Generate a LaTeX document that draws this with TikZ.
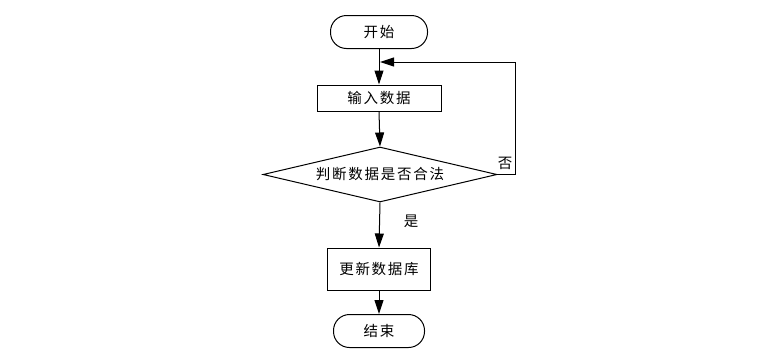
\documentclass[tikz,border=0pt]{standalone}
\usepackage{fontspec}
\setmainfont{Noto Sans CJK SC}[LetterSpace=12]
\usetikzlibrary{arrows.meta,shapes.geometric}
\begin{document}
\begin{tikzpicture}[x=1pt,y=-1pt,
  every node/.style={font=\fontsize{14.5}{16}\selectfont, inner sep=0pt},
  term/.style={draw, line width=1pt, rounded corners=16pt, minimum width=97pt, minimum height=33pt},
  proc/.style={draw, line width=1pt, minimum width=124pt, minimum height=26pt},
  dec/.style={draw, line width=1pt, diamond, aspect=4.25, minimum width=234pt, minimum height=55pt},
  conn/.style={draw, line width=1pt, -{Triangle[length=14pt,width=9pt]}},
  lbl/.style={font=\fontsize{14.5}{16}\selectfont}]
\useasboundingbox (0,0) rectangle (759,354);
\node[term] (start) at (379,32) {开始};
\node[proc] (input) at (379,98) {输入数据};
\node[dec] (judge) at (380,174.5) {判断数据是否合法};
\node[proc, minimum width=103pt, minimum height=42pt] (update) at (379,269) {更新数据库};
\node[term, minimum width=91pt] (end) at (379,331) {结束};
\coordinate (fbA) at (515,174.5);
\coordinate (fbB) at (515,62);
\coordinate (fbC) at (380,62);
\draw[conn] (start.south) -- (input.north);
\draw[conn] (input.south) -- (judge.north);
\draw[conn] (judge.south) -- (update.north);
\draw[conn] (update.south) -- (end.north);
\draw[conn] (judge.east) -- (fbA) -- (fbB) -- (fbC);
\node[lbl] (no) at (505,163) {否};
\node[lbl] (yes) at (411,221) {是};
\end{tikzpicture}
\end{document}
